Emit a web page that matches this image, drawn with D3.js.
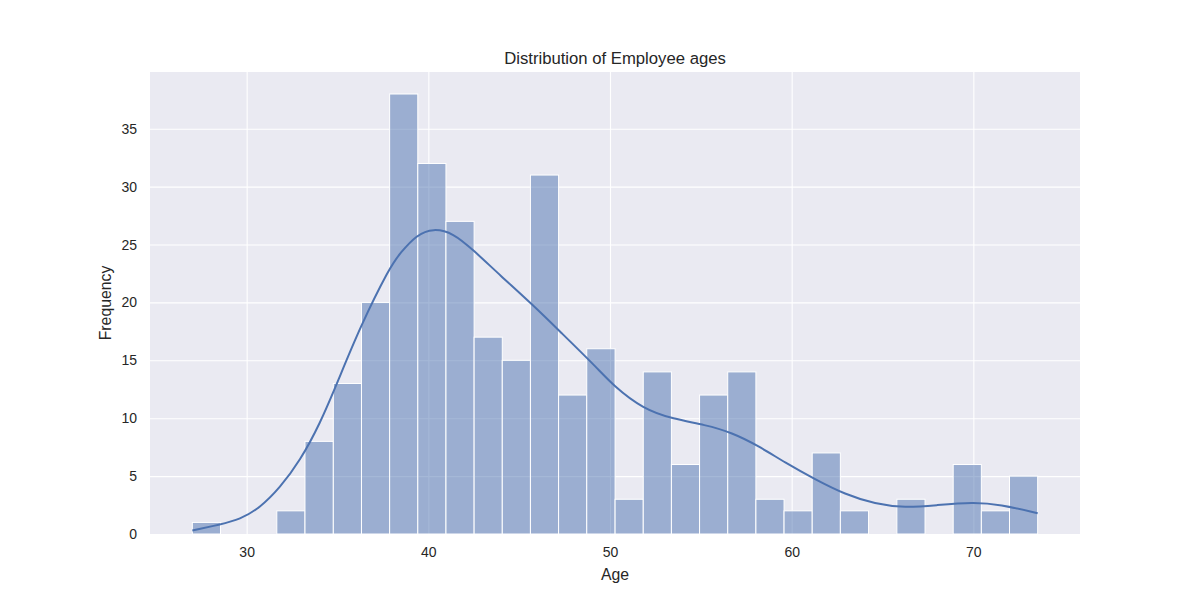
<!DOCTYPE html>
<html>
<head>
<meta charset="utf-8">
<script src="https://cdn.jsdelivr.net/npm/d3@7"></script>
<style>
    body { margin: 0; background: #fff; }
    svg { display: block; font-family: Arial, 'Liberation Sans', sans-serif; }
</style>
</head>
<body>
<div id="chart"></div>
<script>
// histogram bins (age edges) and counts
const binEdges = [27.01, 28.56, 30.11, 31.66, 33.21, 34.77, 36.32, 37.87, 39.42, 40.97,
    42.52, 44.07, 45.62, 47.17, 48.72, 50.28, 51.83, 53.38, 54.93, 56.48,
    58.03, 59.58, 61.13, 62.68, 64.23, 65.79, 67.34, 68.89, 70.44, 71.99, 73.54]
const counts = [1, 0, 0, 2, 8, 13, 20, 38, 32, 27, 17, 15, 31, 12, 16, 3, 14, 6, 12, 14,
    3, 2, 7, 2, 0, 3, 0, 6, 2, 5]

// kde curve
const kdeAge = [27.01, 28.53, 29.63, 30.73, 31.83, 32.93, 34.03, 35.04, 36.24, 37.89, 38.44,
    39.36, 40.27, 41.37, 42.47, 43.94, 45.77, 47.24, 49.26, 50.18, 51.83, 53.48, 55.24,
    56.71, 58.17, 59.64, 61.29, 62.94, 64.59, 66.24, 67.97, 69.99, 71.46, 73.54]
const kdeFreq = [0.3, 0.82, 1.25, 2.26, 3.99, 6.31, 9.49, 13.25, 17.87, 23.08, 24.24,
    25.85, 26.4, 26.0, 24.53, 22.36, 19.76, 17.5, 14.4, 12.81, 10.79, 9.93, 9.43,
    8.76, 7.61, 6.16, 4.72, 3.42, 2.6, 2.26, 2.49, 2.75, 2.55, 1.8]

const xTicks = [30, 40, 50, 60, 70]
const yTicks = [0, 5, 10, 15, 20, 25, 30, 35]

const width = 1200, height = 600
const margin = { top: 72, right: 120, bottom: 66, left: 150 }
const blue = '#4c72b0'

const svg = d3.select('#chart').append('svg')
    .attr('width', width)
    .attr('height', height)

const x = d3.scaleLinear()
    .domain([24.68, 75.87])
    .range([margin.left, width - margin.right])
const y = d3.scaleLinear()
    .domain([0, 39.9])
    .range([height - margin.bottom, margin.top])

// background
svg.append('rect')
    .attr('x', margin.left)
    .attr('y', margin.top)
    .attr('width', width - margin.left - margin.right)
    .attr('height', height - margin.top - margin.bottom)
    .attr('fill', '#eaeaf2')

// grid
const xAxis = d3.axisBottom(x).tickValues(xTicks).tickSize(-(height - margin.top - margin.bottom)).tickPadding(13)
const yAxis = d3.axisLeft(y).tickValues(yTicks).tickSize(-(width - margin.left - margin.right)).tickPadding(13)

const gx = svg.append('g')
    .attr('transform', `translate(0,${height - margin.bottom})`)
    .call(xAxis)
const gy = svg.append('g')
    .attr('transform', `translate(${margin.left},0)`)
    .call(yAxis)

for (const g of [gx, gy]) {
    g.select('.domain').remove()
    g.selectAll('.tick line').attr('stroke', '#fff').attr('stroke-width', 1.1)
    g.selectAll('.tick text').attr('fill', '#262626').style('font-size', '14px')
}

// bars
const bins = counts.map((c, i) => ({ x0: binEdges[i], x1: binEdges[i + 1], count: c }))
svg.append('g')
    .selectAll('rect')
    .data(bins.filter(d => d.count > 0))
    .join('rect')
    .attr('x', d => x(d.x0))
    .attr('y', d => y(d.count))
    .attr('width', d => x(d.x1) - x(d.x0))
    .attr('height', d => y(0) - y(d.count))
    .attr('fill', blue)
    .attr('fill-opacity', 0.5)
    .attr('stroke', '#fff')
    .attr('stroke-width', 1)

// kde line
const line = d3.line()
    .x(d => x(d[0]))
    .y(d => y(d[1]))
    .curve(d3.curveBasis)

svg.append('path')
    .datum(kdeAge.map((a, i) => [a, kdeFreq[i]]))
    .attr('d', line)
    .attr('fill', 'none')
    .attr('stroke', blue)
    .attr('stroke-width', 2)

// labels
svg.append('text')
    .attr('x', (margin.left + width - margin.right) / 2)
    .attr('y', 64)
    .attr('text-anchor', 'middle')
    .attr('fill', '#262626')
    .style('font-size', '16.7px')
    .text('Distribution of Employee ages')

svg.append('text')
    .attr('x', (margin.left + width - margin.right) / 2)
    .attr('y', 580)
    .attr('text-anchor', 'middle')
    .attr('fill', '#262626')
    .style('font-size', '15.8px')
    .text('Age')

svg.append('text')
    .attr('transform', `translate(111,${(margin.top + height - margin.bottom) / 2}) rotate(-90)`)
    .attr('text-anchor', 'middle')
    .attr('fill', '#262626')
    .style('font-size', '15.8px')
    .text('Frequency')
</script>
</body>
</html>
